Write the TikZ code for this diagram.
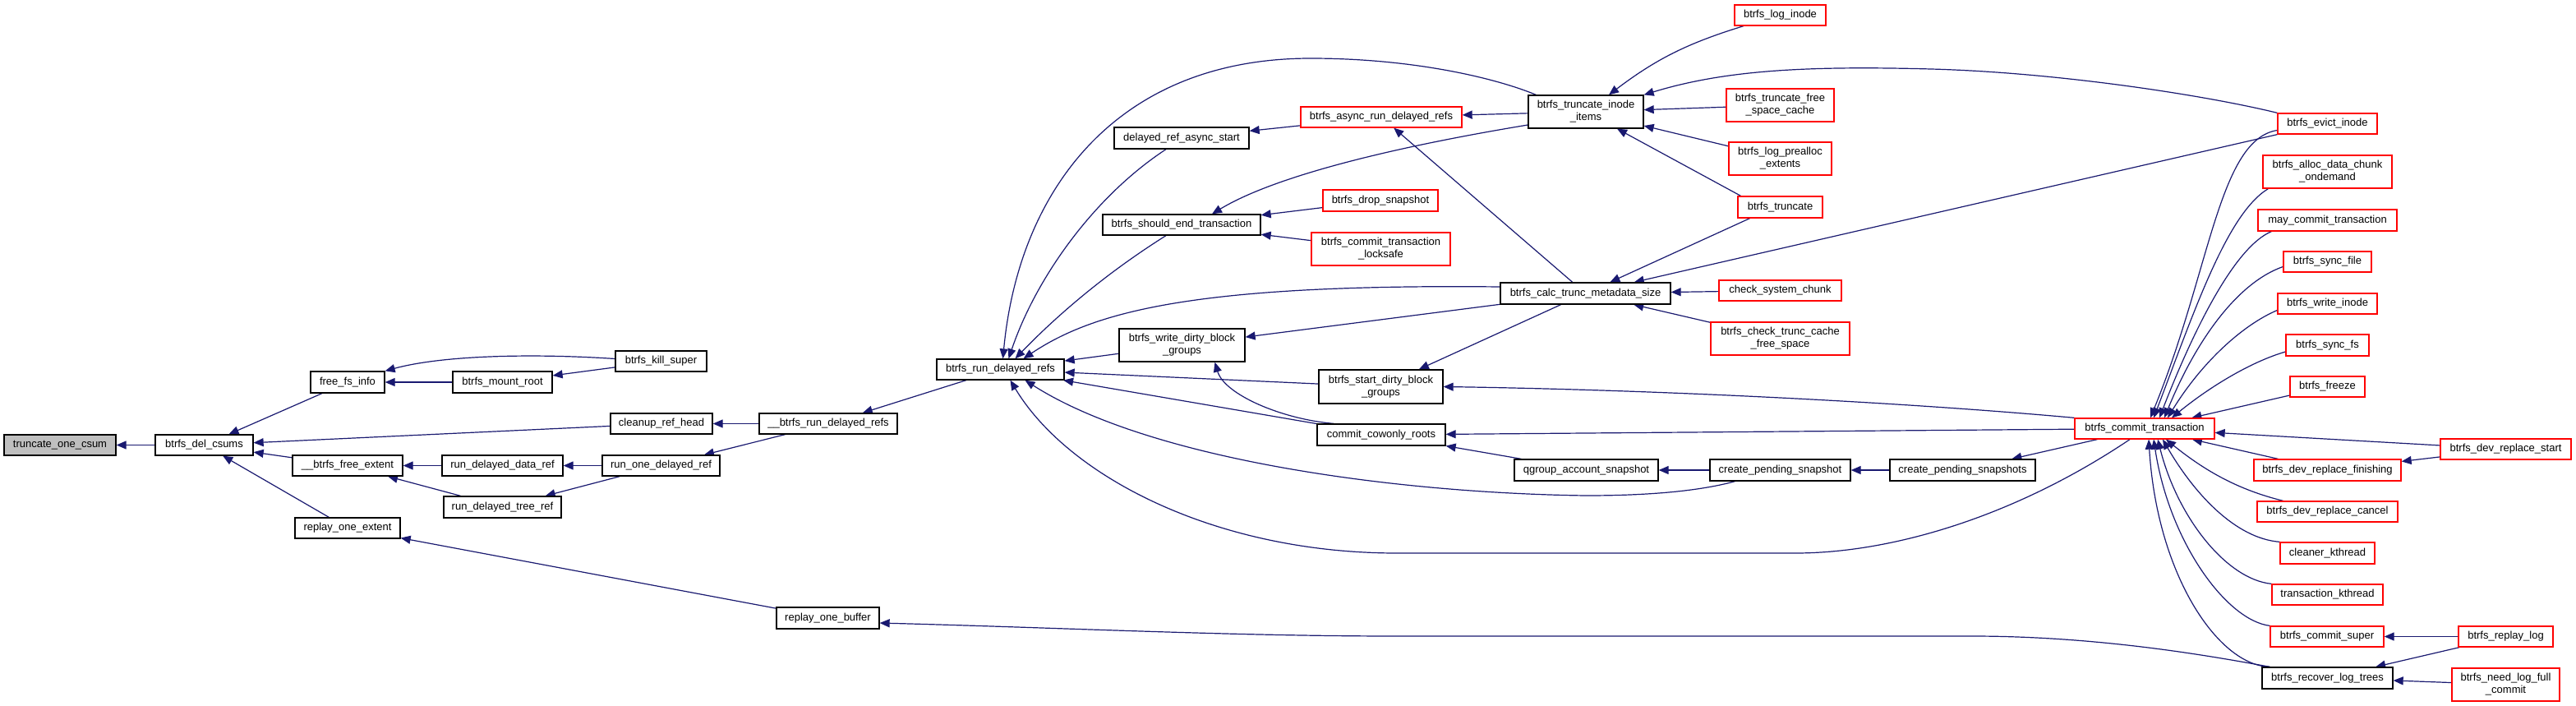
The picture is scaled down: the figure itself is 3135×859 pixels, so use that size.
\documentclass[tikz,border=0pt]{standalone}
\usepackage{fontspec}
\setmainfont{Liberation Sans}
\usetikzlibrary{arrows.meta}
\definecolor{mblue}{HTML}{191970}
\definecolor{gfill}{HTML}{BFBFBF}
\newcommand{\nodefont}{\fontsize{13}{15}\selectfont}
\newcommand{\gnode}[7]{\node[#6, minimum width={(#4-#2)*1pt}, minimum height={(#5-#3)*1pt}] (#1) at ({(#2+#4)/2},{(#3+#5)/2}) {#7};}
\pgfdeclarelayer{bgzero}
\pgfdeclarelayer{edges}
\pgfsetlayers{bgzero,edges,main}
\begin{document}
\begin{tikzpicture}[x=1pt,y=-1pt,
  box/.style={draw=black, fill=white, line width=1.3pt, inner sep=0pt, align=center, font=\nodefont},
  rbox/.style={box, draw=red},
  gbox/.style={box, fill=gfill},
  edg/.style={draw=mblue, line width=1.2pt, {Triangle[length=12pt,width=10pt]}-}]
\begin{pgfonlayer}{bgzero}
\fill[white] (0,0) rectangle (3135,859);
\end{pgfonlayer}
\useasboundingbox (0,0) rectangle (3135,859);

\gnode{toc}{5}{529}{141}{554}{gbox}{truncate\_one\_csum}
\gnode{bdc}{189}{529}{308}{554}{box}{btrfs\_del\_csums}
\gnode{ffi}{378}{452}{468}{478}{box}{free\_fs\_info}
\gnode{bmr}{551}{452}{672}{478}{box}{btrfs\_mount\_root}
\gnode{bks}{749}{427}{860}{452}{box}{btrfs\_kill\_super}
\gnode{crh}{743}{503}{867}{528}{box}{cleanup\_ref\_head}
\gnode{urdr}{924}{503}{1092}{528}{box}{\_\_btrfs\_run\_delayed\_refs}
\gnode{bfe}{356}{554}{490}{579}{box}{\_\_btrfs\_free\_extent}
\gnode{rddr}{538}{554}{685}{579}{box}{run\_delayed\_data\_ref}
\gnode{rodr}{733}{554}{876}{579}{box}{run\_one\_delayed\_ref}
\gnode{rdtr}{540}{604}{683}{630}{box}{run\_delayed\_tree\_ref}
\gnode{roe}{359}{630}{487}{655}{box}{replay\_one\_extent}
\gnode{rob}{945}{739}{1070}{765}{box}{replay\_one\_buffer}
\gnode{brdr}{1140}{437}{1295}{462}{box}{btrfs\_run\_delayed\_refs}
\gnode{dras}{1356}{155}{1520}{181}{box}{delayed\_ref\_async\_start}
\gnode{bardr}{1583}{130}{1779}{155}{rbox}{btrfs\_async\_run\_delayed\_refs}
\gnode{bset}{1342}{261}{1534}{286}{box}{btrfs\_should\_end\_transaction}
\gnode{bds}{1610}{231}{1750}{257}{rbox}{btrfs\_drop\_snapshot}
\gnode{bctl}{1596}{283}{1765}{323}{rbox}{btrfs\_commit\_transaction\\\_locksafe}
\gnode{bwdbg}{1362}{400}{1515}{440}{box}{btrfs\_write\_dirty\_block\\\_groups}
\gnode{bsdbg}{1605}{450}{1756}{491}{box}{btrfs\_start\_dirty\_block\\\_groups}
\gnode{ccr}{1603}{516}{1759}{542}{box}{commit\_cowonly\_roots}
\gnode{qas}{1843}{559}{2018}{585}{box}{qgroup\_account\_snapshot}
\gnode{cps}{2081}{559}{2252}{585}{box}{create\_pending\_snapshot}
\gnode{cpss}{2300}{559}{2477}{585}{box}{create\_pending\_snapshots}
\gnode{btii}{1860}{116}{2000}{156}{box}{btrfs\_truncate\_inode\\\_items}
\gnode{bctms}{1826}{344}{2033}{370}{box}{btrfs\_calc\_trunc\_metadata\_size}
\gnode{bli}{2111}{6}{2222}{31}{rbox}{btrfs\_log\_inode}
\gnode{btfsc}{2101}{108}{2232}{148}{rbox}{btrfs\_truncate\_free\\\_space\_cache}
\gnode{blpe}{2104}{173}{2229}{213}{rbox}{btrfs\_log\_prealloc\\\_extents}
\gnode{btr}{2115}{239}{2218}{265}{rbox}{btrfs\_truncate}
\gnode{csc}{2092}{341}{2241}{366}{rbox}{check\_system\_chunk}
\gnode{bctcfs}{2082}{392}{2251}{432}{rbox}{btrfs\_check\_trunc\_cache\\\_free\_space}
\gnode{bct}{2525}{509}{2695}{534}{rbox}{btrfs\_commit\_transaction}
\gnode{bei}{2772}{138}{2893}{163}{rbox}{btrfs\_evict\_inode}
\gnode{badco}{2754}{189}{2911}{229}{rbox}{btrfs\_alloc\_data\_chunk\\\_ondemand}
\gnode{mct}{2748}{255}{2917}{281}{rbox}{may\_commit\_transaction}
\gnode{bsf}{2779}{306}{2886}{331}{rbox}{btrfs\_sync\_file}
\gnode{bwi}{2772}{357}{2893}{382}{rbox}{btrfs\_write\_inode}
\gnode{bsfs}{2782}{407}{2883}{433}{rbox}{btrfs\_sync\_fs}
\gnode{bfr}{2787}{458}{2878}{483}{rbox}{btrfs\_freeze}
\gnode{bdrs}{2970}{534}{3129}{559}{rbox}{btrfs\_dev\_replace\_start}
\gnode{bdrf}{2743}{559}{2922}{585}{rbox}{btrfs\_dev\_replace\_finishing}
\gnode{bdrc}{2747}{610}{2918}{635}{rbox}{btrfs\_dev\_replace\_cancel}
\gnode{ckt}{2775}{660}{2890}{686}{rbox}{cleaner\_kthread}
\gnode{tkt}{2765}{711}{2900}{736}{rbox}{transaction\_kthread}
\gnode{bcs}{2763}{762}{2901}{787}{rbox}{btrfs\_commit\_super}
\gnode{brl}{2992}{762}{3107}{787}{rbox}{btrfs\_replay\_log}
\gnode{brlt}{2753}{812}{2912}{838}{box}{btrfs\_recover\_log\_trees}
\gnode{bnlfc}{2984}{813}{3115}{853}{rbox}{btrfs\_need\_log\_full\\\_commit}

\begin{pgfonlayer}{edges}
\draw[edg] (toc) -- (bdc);
\draw[edg] (bdc) -- (ffi);
\draw[edg] (bdc) -- (crh);
\draw[edg] (bdc) -- (bfe);
\draw[edg] (bdc) -- (roe);
\draw[edg] (ffi.north east) .. controls (540,432) and (650,430) .. ([yshift=3pt]bks.west);
\draw[edg] (ffi) -- (bmr);
\draw[edg] (bmr) -- (bks);
\draw[edg] (crh) -- (urdr);
\draw[edg] (bfe) -- (rddr);
\draw[edg] (bfe) -- (rdtr);
\draw[edg] (rddr) -- (rodr);
\draw[edg] (rdtr) -- (rodr);
\draw[edg] (rodr) -- (urdr);
\draw[edg] (urdr) -- (brdr);
\draw[edg] (roe) -- (rob);
\draw[edg] ([yshift=-6pt]rob.east) .. controls (1300,764) and (1500,774) .. (1700,774) -- (2400,774) .. controls (2560,774) and (2700,800) .. ([xshift=10pt]brlt.north west);
% into btrfs_run_delayed_refs
\draw[edg] ([xshift=3pt]brdr.north) .. controls (1240,230) and (1360,71) .. (1595,71) .. controls (1720,71) and (1820,95) .. ([xshift=10pt]btii.north west);
\draw[edg] ([xshift=10pt]brdr.north) .. controls (1260,340) and (1330,240) .. ([xshift=-19pt]dras.south);
\draw[edg] ([xshift=18pt]brdr.north) .. controls (1290,380) and (1350,330) .. ([xshift=-19pt]bset.south);
\draw[edg] ([xshift=28pt]brdr.north) .. controls (1330,380) and (1450,345) .. ([yshift=8pt]bctms.west);
\draw[edg] (brdr) -- (bwdbg);
\draw[edg] (brdr) -- (bsdbg);
\draw[edg] (brdr) -- (ccr);
\draw[edg] ([xshift=30pt]brdr.south) .. controls (1400,560) and (1700,600) .. (1930,603) .. controls (2010,603) and (2070,597) .. ([xshift=-55pt]cps.south);
\draw[edg] ([xshift=12pt]brdr.south) .. controls (1300,580) and (1480,673) .. (1700,673) -- (2185,673) .. controls (2300,673) and (2450,630) .. ([xshift=-18pt]bct.south);
% middle
\draw[edg] (dras) -- (bardr);
\draw[edg] (bardr) -- (btii);
\draw[edg] (bardr) -- (bctms);
\draw[edg] ([xshift=37pt]bset.north) .. controls (1550,215) and (1690,180) .. ([yshift=-16pt]btii.west);
\draw[edg] (bset) -- (bds);
\draw[edg] (bset) -- (bctl);
\draw[edg] (btii) to[bend left=10] (bli);
\draw[edg] (btii.north east) .. controls (2100,85) and (2200,80) .. (2350,84) .. controls (2500,88) and (2680,115) .. (bei.north west);
\draw[edg] (btii) -- (btfsc);
\draw[edg] (btii) -- (blpe);
\draw[edg] (btii) -- ([xshift=-48pt]btr.north);
\draw[edg] (bctms) -- ([xshift=-37pt]btr.south);
\draw[edg] (bctms) -- (bei.south west);
\draw[edg] (bctms) -- (csc);
\draw[edg] (bctms) -- (bctcfs);
\draw[edg] (bwdbg) -- (bctms);
\draw[edg] ([xshift=40pt]bwdbg.south) .. controls (1490,480) and (1560,510) .. ([xshift=-58pt]ccr.north);
\draw[edg] (bsdbg) -- (bctms);
\draw[edg] (bsdbg.east) .. controls (2000,474) and (2300,488) .. (bct.north west);
\draw[edg] (ccr) -- (bct);
\draw[edg] (ccr) -- (qas);
\draw[edg] (qas) -- (cps);
\draw[edg] (cps) -- (cpss);
\draw[edg] (cpss) -- (bct);
% into btrfs_commit_transaction
\draw[edg] ([xshift=7pt]bct.north) .. controls (2690,330) and (2700,170) .. ([yshift=-8pt]bei.west);
\draw[edg] ([xshift=11pt]bct.north) .. controls (2670,380) and (2710,260) .. ([xshift=7pt]badco.south west);
\draw[edg] ([xshift=18pt]bct.north) .. controls (2670,400) and (2720,300) .. ([xshift=17pt]mct.south west);
\draw[edg] ([xshift=24pt]bct.north) .. controls (2670,420) and (2720,345) .. ([yshift=-6pt]bsf.west);
\draw[edg] ([xshift=28pt]bct.north) .. controls (2680,440) and (2730,395) .. ([yshift=-8pt]bwi.west);
\draw[edg] ([xshift=33pt]bct.north) .. controls (2690,470) and (2740,440) .. ([yshift=-8pt]bsfs.west);
\draw[edg] (bct) -- (bfr);
\draw[edg] (bct) -- (bdrs);
\draw[edg] (bct) -- (bdrf);
\draw[edg] ([xshift=26pt]bct.south) .. controls (2680,570) and (2720,595) .. ([xshift=-54pt]bdrc.north);
\draw[edg] ([xshift=22pt]bct.south) .. controls (2670,600) and (2720,655) .. (ckt.north west);
\draw[edg] ([xshift=16pt]bct.south) .. controls (2650,630) and (2710,705) .. (tkt.north west);
\draw[edg] ([xshift=11pt]bct.south) .. controls (2640,660) and (2710,755) .. (bcs.north west);
\draw[edg] ([xshift=5pt]bct.south) .. controls (2625,700) and (2700,810) .. ([xshift=10pt]brlt.north west);
\draw[edg] (bdrf) -- (bdrs);
\draw[edg] (bcs) -- (brl);
\draw[edg] (brlt) -- (brl);
\draw[edg] (brlt) -- (bnlfc);
\end{pgfonlayer}
\end{tikzpicture}
\end{document}
